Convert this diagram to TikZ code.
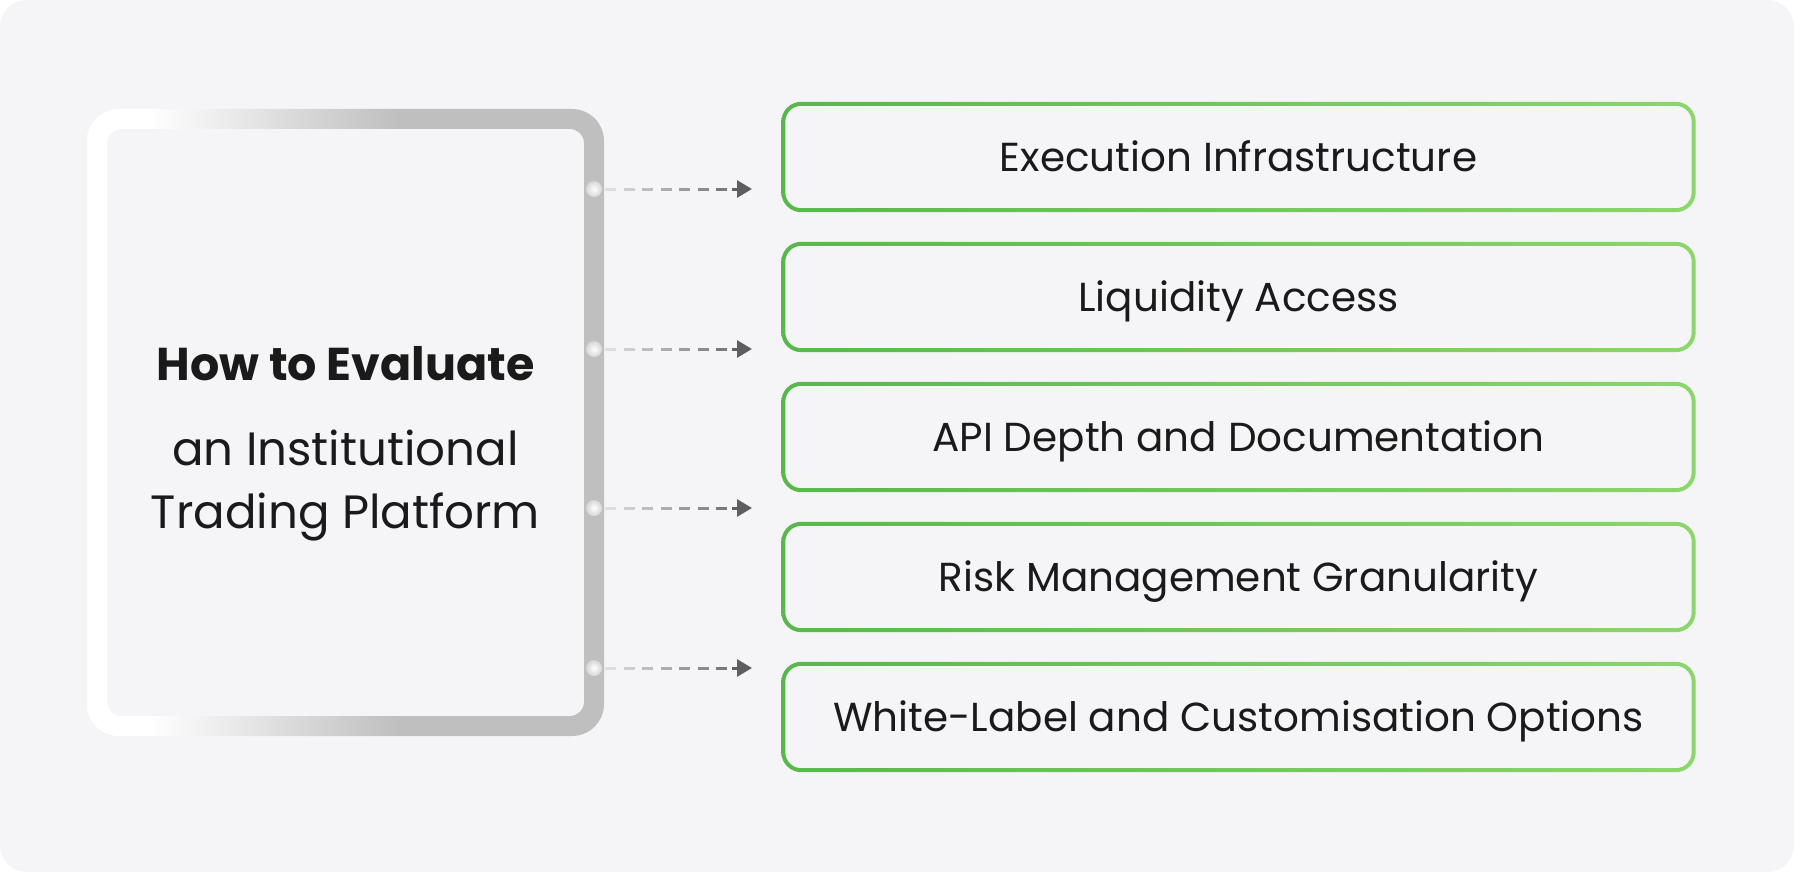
\documentclass[tikz,border=0pt]{standalone}
\usepackage{fontspec}
\setmainfont{Poppins}
\usetikzlibrary{calc,arrows.meta}
\definecolor{bgcol}{HTML}{F5F5F7}
\definecolor{framegray}{HTML}{BFBFBF}
\definecolor{gL}{HTML}{58B84C}
\definecolor{gR}{HTML}{8CD66E}
\definecolor{arrowdark}{HTML}{5E5E5E}
\definecolor{arrowlight}{HTML}{DEDEDF}
\definecolor{txt}{HTML}{1A1A1A}
\pgfdeclarehorizontalshading{frameshade}{100bp}{color(0bp)=(white); color(31bp)=(white); color(55bp)=(framegray); color(100bp)=(framegray)}
\pgfdeclarehorizontalshading{greenshade}{100bp}{color(0bp)=(gL); color(25bp)=(gL); color(75bp)=(gR); color(100bp)=(gR)}
\begin{document}
\begin{tikzpicture}[x=1pt,y=-1pt,
  gbox/.style={minimum width=914pt, minimum height=110pt, inner sep=0pt,
    text height=28.5pt, text depth=0pt, text=txt, font=\fontsize{40.5}{48}\selectfont},
  titletext/.style={font=\fontsize{46.7}{56}\selectfont, text=txt, inner sep=0pt, anchor=base},
  dotnode/.style={circle, minimum size=16pt, inner sep=0pt, shading=radial, inner color=white, outer color=black!16},
  dashseg/.style={line width=3pt},
]
\useasboundingbox (0,0) rectangle (1794,872);
\fill[white] (0,0) rectangle (1794,872);
\fill[bgcol, rounded corners=27pt] (0,0) rectangle (1794,872);

% left frame
\shade[shading=frameshade, even odd rule] [rounded corners=32pt] (87,109) rectangle (604,736)
  [rounded corners=14pt] (107,129) rectangle (584,716);

% title
\node[titletext, font=\bfseries\fontsize{46}{55}\selectfont] (h1) at (345.5,380.7) {How to Evaluate};
\node[titletext] (h2) at (345.5,465) {an Institutional};
\node[titletext] (h3) at (345.5,528) {Trading Platform};

% green boxes
\node[gbox] (b1) at (1238.5,157) {Execution Infrastructure};
\node[gbox] (b2) at (1238.5,297) {Liquidity Access};
\node[gbox] (b3) at (1238.5,437) {API Depth and Documentation};
\node[gbox] (b4) at (1238.5,577) {Risk Management Granularity};
\node[gbox] (b5) at (1238.5,717) {White-Label and Customisation Options};
\foreach \i in {1,...,5} {
  \shade[shading=greenshade, even odd rule] [rounded corners=20pt] (b\i.south west) rectangle (b\i.north east)
    [rounded corners=16pt] ([shift={(4,-4)}]b\i.south west) rectangle ([shift={(-4,4)}]b\i.north east);
}

% connectors
\foreach \i/\y in {1/189,2/349,3/508,4/668} {
  \node[dotnode] (d\i) at (594,\y) {};
  \coordinate (e\i) at (752,\y);
  \foreach \k in {0,...,6} {
    \pgfmathsetmacro\c{100-\k*13}
    \draw[dashseg, color=arrowlight!\c!arrowdark] ($(d\i.center)+(11+\k*18.5,0)$) -- ++(11,0);
  }
  \draw[dashseg, arrowdark, -{Triangle[length=15pt,width=17pt]}] ($(e\i)+(-20,0)$) -- (e\i);
}
\end{tikzpicture}
\end{document}
